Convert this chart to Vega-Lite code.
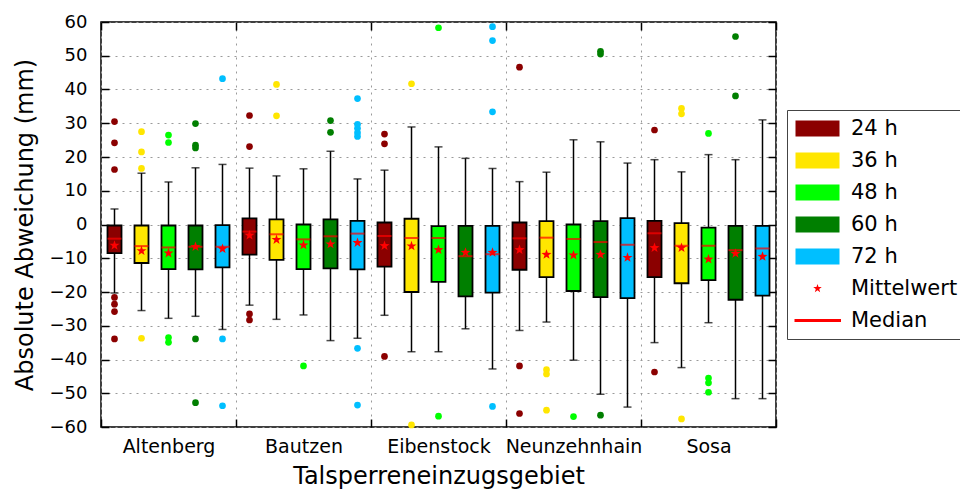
{
  "$schema": "https://vega.github.io/schema/vega-lite/v6.json",
  "width": 675,
  "height": 405,
  "autosize": "none",
  "padding": {"left": 101, "top": 22, "right": 184, "bottom": 64},
  "config": {
    "font": "DejaVu Sans",
    "view": {"stroke": "black", "strokeWidth": 1.5},
    "axis": {"labelColor": "black", "titleColor": "black", "tickColor": "black", "domainColor": "black", "titleFontWeight": "normal"}
  },
  "datasets": {
    "boxes": [
      {"s":"Altenberg","h":"24 h","lo":-20.3,"q1":-8.5,"med":-4.2,"q3":-0.3,"hi":4.6,"mean":-6.2},
      {"s":"Altenberg","h":"36 h","lo":-25.5,"q1":-11.4,"med":-6.4,"q3":-0.3,"hi":15.2,"mean":-7.8},
      {"s":"Altenberg","h":"48 h","lo":-27.8,"q1":-13.2,"med":-6.8,"q3":-0.3,"hi":12.6,"mean":-8.5},
      {"s":"Altenberg","h":"60 h","lo":-27.2,"q1":-13.3,"med":-6.6,"q3":-0.3,"hi":16.8,"mean":-6.6},
      {"s":"Altenberg","h":"72 h","lo":-31.1,"q1":-12.7,"med":-6.6,"q3":-0.2,"hi":17.8,"mean":-7.2},
      {"s":"Bautzen","h":"24 h","lo":-23.9,"q1":-8.9,"med":-2.1,"q3":1.8,"hi":16.7,"mean":-3.2},
      {"s":"Bautzen","h":"36 h","lo":-28.1,"q1":-10.5,"med":-2.9,"q3":1.5,"hi":14.4,"mean":-4.5},
      {"s":"Bautzen","h":"48 h","lo":-26.8,"q1":-13.2,"med":-4.4,"q3":0,"hi":16.5,"mean":-6.1},
      {"s":"Bautzen","h":"60 h","lo":-34.4,"q1":-13.0,"med":-3.5,"q3":1.5,"hi":21.7,"mean":-5.8},
      {"s":"Bautzen","h":"72 h","lo":-33.7,"q1":-13.3,"med":-2.7,"q3":1.1,"hi":13.5,"mean":-5.4},
      {"s":"Eibenstock","h":"24 h","lo":-26.9,"q1":-12.5,"med":-3.4,"q3":0.6,"hi":16.1,"mean":-6.3},
      {"s":"Eibenstock","h":"36 h","lo":-37.7,"q1":-20.0,"med":-4.0,"q3":1.7,"hi":28.9,"mean":-6.4},
      {"s":"Eibenstock","h":"48 h","lo":-37.7,"q1":-17.0,"med":-4.0,"q3":-0.5,"hi":23.0,"mean":-7.5},
      {"s":"Eibenstock","h":"60 h","lo":-30.9,"q1":-21.3,"med":-9.4,"q3":-0.4,"hi":19.6,"mean":-8.3},
      {"s":"Eibenstock","h":"72 h","lo":-42.8,"q1":-20.2,"med":-8.8,"q3":-0.4,"hi":16.6,"mean":-8.3},
      {"s":"Neunzehnhain","h":"24 h","lo":-31.4,"q1":-13.4,"med":-4.1,"q3":0.6,"hi":12.7,"mean":-7.5},
      {"s":"Neunzehnhain","h":"36 h","lo":-28.9,"q1":-15.6,"med":-3.9,"q3":1.0,"hi":15.5,"mean":-8.9},
      {"s":"Neunzehnhain","h":"48 h","lo":-40.2,"q1":-19.7,"med":-4.3,"q3":0,"hi":25.1,"mean":-9.1},
      {"s":"Neunzehnhain","h":"60 h","lo":-50.3,"q1":-21.5,"med":-5.2,"q3":1.0,"hi":24.5,"mean":-8.9},
      {"s":"Neunzehnhain","h":"72 h","lo":-54.1,"q1":-21.8,"med":-6.0,"q3":1.9,"hi":18.2,"mean":-9.8},
      {"s":"Sosa","h":"24 h","lo":-35.0,"q1":-15.6,"med":-2.6,"q3":1.1,"hi":19.2,"mean":-6.9},
      {"s":"Sosa","h":"36 h","lo":-42.4,"q1":-17.4,"med":-6.3,"q3":0.4,"hi":15.6,"mean":-6.9},
      {"s":"Sosa","h":"48 h","lo":-29.1,"q1":-16.5,"med":-6.3,"q3":-0.9,"hi":20.7,"mean":-10.3},
      {"s":"Sosa","h":"60 h","lo":-51.6,"q1":-22.3,"med":-7.6,"q3":-0.4,"hi":19.2,"mean":-8.6},
      {"s":"Sosa","h":"72 h","lo":-51.6,"q1":-21.1,"med":-7.1,"q3":-0.4,"hi":31.0,"mean":-9.5}
    ],
    "outliers": [
      {"s":"Altenberg","h":"24 h","v":30.5},{"s":"Altenberg","h":"24 h","v":24.2},{"s":"Altenberg","h":"24 h","v":16.3},
      {"s":"Altenberg","h":"24 h","v":-21.6},{"s":"Altenberg","h":"24 h","v":-23.6},{"s":"Altenberg","h":"24 h","v":-25.8},{"s":"Altenberg","h":"24 h","v":-33.9},
      {"s":"Altenberg","h":"36 h","v":27.5},{"s":"Altenberg","h":"36 h","v":21.5},{"s":"Altenberg","h":"36 h","v":16.6},{"s":"Altenberg","h":"36 h","v":-33.7},
      {"s":"Altenberg","h":"48 h","v":26.5},{"s":"Altenberg","h":"48 h","v":24.3},{"s":"Altenberg","h":"48 h","v":-33.5},{"s":"Altenberg","h":"48 h","v":-34.9},
      {"s":"Altenberg","h":"60 h","v":29.9},{"s":"Altenberg","h":"60 h","v":23.5},{"s":"Altenberg","h":"60 h","v":22.7},{"s":"Altenberg","h":"60 h","v":-33.9},{"s":"Altenberg","h":"60 h","v":-52.8},
      {"s":"Altenberg","h":"72 h","v":43.2},{"s":"Altenberg","h":"72 h","v":-33.9},{"s":"Altenberg","h":"72 h","v":-53.7},
      {"s":"Bautzen","h":"24 h","v":32.3},{"s":"Bautzen","h":"24 h","v":23.1},{"s":"Bautzen","h":"24 h","v":-26.5},{"s":"Bautzen","h":"24 h","v":-28.3},
      {"s":"Bautzen","h":"36 h","v":41.5},{"s":"Bautzen","h":"36 h","v":32.2},
      {"s":"Bautzen","h":"48 h","v":-41.9},
      {"s":"Bautzen","h":"60 h","v":30.8},{"s":"Bautzen","h":"60 h","v":27.3},
      {"s":"Bautzen","h":"72 h","v":37.3},{"s":"Bautzen","h":"72 h","v":29.7},{"s":"Bautzen","h":"72 h","v":28.5},{"s":"Bautzen","h":"72 h","v":27.2},{"s":"Bautzen","h":"72 h","v":26.1},{"s":"Bautzen","h":"72 h","v":-36.7},{"s":"Bautzen","h":"72 h","v":-53.5},
      {"s":"Eibenstock","h":"24 h","v":26.8},{"s":"Eibenstock","h":"24 h","v":23.9},{"s":"Eibenstock","h":"24 h","v":-39.1},
      {"s":"Eibenstock","h":"36 h","v":41.7},{"s":"Eibenstock","h":"36 h","v":-59.4},
      {"s":"Eibenstock","h":"48 h","v":58.3},{"s":"Eibenstock","h":"48 h","v":-56.8},
      {"s":"Eibenstock","h":"72 h","v":58.6},{"s":"Eibenstock","h":"72 h","v":54.5},{"s":"Eibenstock","h":"72 h","v":33.4},{"s":"Eibenstock","h":"72 h","v":-53.9},
      {"s":"Neunzehnhain","h":"24 h","v":46.6},{"s":"Neunzehnhain","h":"24 h","v":-41.9},{"s":"Neunzehnhain","h":"24 h","v":-56.0},
      {"s":"Neunzehnhain","h":"36 h","v":-43.0},{"s":"Neunzehnhain","h":"36 h","v":-44.3},{"s":"Neunzehnhain","h":"36 h","v":-55.0},
      {"s":"Neunzehnhain","h":"48 h","v":-56.9},
      {"s":"Neunzehnhain","h":"60 h","v":51.3},{"s":"Neunzehnhain","h":"60 h","v":50.5},{"s":"Neunzehnhain","h":"60 h","v":-56.5},
      {"s":"Sosa","h":"24 h","v":28.0},{"s":"Sosa","h":"24 h","v":-43.7},
      {"s":"Sosa","h":"36 h","v":34.4},{"s":"Sosa","h":"36 h","v":32.8},{"s":"Sosa","h":"36 h","v":-57.6},
      {"s":"Sosa","h":"48 h","v":27.0},{"s":"Sosa","h":"48 h","v":-45.5},{"s":"Sosa","h":"48 h","v":-46.9},{"s":"Sosa","h":"48 h","v":-49.7},
      {"s":"Sosa","h":"60 h","v":55.7},{"s":"Sosa","h":"60 h","v":38.1}
    ],
    "legendrows": [
      {"h":"24 h"},{"h":"36 h"},{"h":"48 h"},{"h":"60 h"},{"h":"72 h"},{"h":"Mittelwert"},{"h":"Median"}
    ]
  },
  "layer": [
    {
      "data": {"name": "boxes"},
      "mark": {"type": "rule", "color": "black", "strokeWidth": 1.5},
      "encoding": {
        "x": {"field": "s", "type": "nominal", "scale": {"paddingInner": 0, "paddingOuter": 0},
              "axis": {"orient": "bottom", "title": "Talsperreneinzugsgebiet", "titleFontSize": 24, "titlePadding": 8,
                       "labelFontSize": 19, "labelAngle": 0, "labelPadding": 18, "tickBand": "extent", "tickSize": -8, "tickWidth": 1.5,
                       "grid": true, "gridDash": [2, 5], "gridColor": "#9a9a9a", "gridWidth": 1, "domain": false}},
        "xOffset": {"field": "h", "type": "nominal", "scale": {"paddingInner": 0, "paddingOuter": 0}},
        "y": {"field": "lo", "type": "quantitative", "scale": {"domain": [-60, 60], "nice": false, "zero": false},
              "axis": {"orient": "left", "title": "Absolute Abweichung (mm)", "titleFontSize": 24, "titlePadding": 12,
                       "values": [-60,-50,-40,-30,-20,-10,0,10,20,30,40,50,60], "labelFontSize": 18, "labelPadding": 22, "labelOverlap": false,
                       "tickSize": -8, "tickWidth": 1.5, "grid": true, "gridDash": [2, 5], "gridColor": "#9a9a9a", "gridWidth": 1, "domain": false}},
        "y2": {"field": "hi"}
      }
    },
    {
      "data": {"name": "boxes"},
      "mark": {"type": "tick", "color": "black", "thickness": 1.5, "size": 8},
      "encoding": {
        "x": {"field": "s", "type": "nominal", "axis": null},
        "xOffset": {"field": "h", "type": "nominal"},
        "y": {"field": "lo", "type": "quantitative", "axis": null}
      }
    },
    {
      "data": {"name": "boxes"},
      "mark": {"type": "tick", "color": "black", "thickness": 1.5, "size": 8},
      "encoding": {
        "x": {"field": "s", "type": "nominal", "axis": null},
        "xOffset": {"field": "h", "type": "nominal"},
        "y": {"field": "hi", "type": "quantitative", "axis": null}
      }
    },
    {
      "data": {"name": "boxes"},
      "mark": {"type": "bar", "width": 14, "stroke": "black", "strokeWidth": 1.8, "opacity": 1},
      "encoding": {
        "x": {"field": "s", "type": "nominal",
              "axis": {"orient": "top", "labels": false, "title": null, "grid": false, "domain": false, "tickBand": "extent", "tickSize": -8, "tickWidth": 1.5}},
        "xOffset": {"field": "h", "type": "nominal"},
        "y": {"field": "q1", "type": "quantitative",
              "axis": {"orient": "right", "labels": false, "title": null, "grid": false, "domain": false, "tickSize": -8, "tickWidth": 1.5,
                       "values": [-60,-50,-40,-30,-20,-10,0,10,20,30,40,50,60]}},
        "y2": {"field": "q3"},
        "color": {"field": "h", "type": "nominal", "legend": null,
                  "scale": {"domain": ["24 h","36 h","48 h","60 h","72 h","Mittelwert","Median"],
                            "range": ["#8b0000","#ffe600","#00ff00","#007f00","#00bfff","#ff0000","#ff0000"]}}
      }
    },
    {
      "data": {"name": "boxes"},
      "mark": {"type": "tick", "color": "#ff0000", "thickness": 2, "size": 14},
      "encoding": {
        "x": {"field": "s", "type": "nominal", "axis": null},
        "xOffset": {"field": "h", "type": "nominal"},
        "y": {"field": "med", "type": "quantitative", "axis": null}
      }
    },
    {
      "data": {"name": "boxes"},
      "mark": {"type": "point", "shape": "M0,-1L0.235,-0.324L0.951,-0.309L0.38,0.124L0.588,0.809L0,0.4L-0.588,0.809L-0.38,0.124L-0.951,-0.309L-0.235,-0.324Z",
               "filled": true, "color": "#ff0000", "opacity": 1, "size": 110, "strokeWidth": 0},
      "encoding": {
        "x": {"field": "s", "type": "nominal", "axis": null},
        "xOffset": {"field": "h", "type": "nominal"},
        "y": {"field": "mean", "type": "quantitative", "axis": null}
      }
    },
    {
      "data": {"name": "outliers"},
      "mark": {"type": "circle", "opacity": 1, "size": 45},
      "encoding": {
        "x": {"field": "s", "type": "nominal", "axis": null},
        "xOffset": {"field": "h", "type": "nominal"},
        "y": {"field": "v", "type": "quantitative", "axis": null},
        "color": {"field": "h", "type": "nominal", "legend": null}
      }
    },
    {
      "data": {"name": "legendrows"},
      "mark": {"type": "point", "filled": true, "opacity": 1},
      "encoding": {
        "y": {"field": "nothing", "type": "quantitative", "axis": null},
        "color": {"field": "h", "type": "nominal",
                  "legend": {"orient": "none", "legendX": 686, "legendY": 88, "title": null,
                             "labelFontSize": 21, "labelColor": "black", "labelOffset": 35, "symbolSize": 400,
                             "symbolStrokeWidth": 0, "symbolOpacity": 1, "rowPadding": 10, "padding": 8,
                             "strokeColor": "#444444", "fillColor": "white", "labelLimit": 300}},
        "shape": {"field": "h", "type": "nominal",
                  "scale": {"domain": ["24 h","36 h","48 h","60 h","72 h","Mittelwert","Median"],
                            "range": ["M-1,-0.8H3.4V0.8H-1Z","M-1,-0.8H3.4V0.8H-1Z","M-1,-0.8H3.4V0.8H-1Z","M-1,-0.8H3.4V0.8H-1Z","M-1,-0.8H3.4V0.8H-1Z",
                                      "M1.2,-0.45L1.306,-0.146L1.628,-0.139L1.371,0.056L1.465,0.364L1.2,0.18L0.935,0.364L1.029,0.056L0.772,-0.139L1.094,-0.146Z",
                                      "M-1.1,-0.15H3.55V0.15H-1.1Z"]},
                  "legend": {"orient": "none", "legendX": 686, "legendY": 88, "title": null,
                             "labelFontSize": 21, "labelColor": "black", "labelOffset": 35, "symbolSize": 400,
                             "symbolStrokeWidth": 0, "symbolOpacity": 1, "rowPadding": 10, "padding": 8,
                             "strokeColor": "#444444", "fillColor": "white", "labelLimit": 300}}
      }
    }
  ],
  "resolve": {"axis": {"x": "independent", "y": "independent"}, "legend": {"color": "independent", "shape": "independent"}}
}
